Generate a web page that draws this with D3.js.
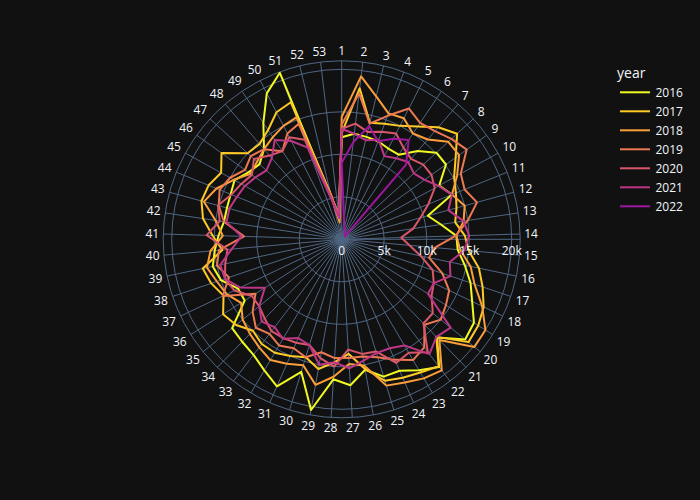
<!DOCTYPE html>
<html><head><meta charset="utf-8">
<script src="https://cdn.jsdelivr.net/npm/d3@7"></script>
<style>html,body{margin:0;padding:0;background:#111111;}svg{display:block;}</style>
</head><body><svg id="chart" width="700" height="500"></svg>
<script>
const weeks = d3.range(1, 54);
const years = ["2016","2017","2018","2019","2020","2021","2022"];
const colors = ["#f0f921","#fdca26","#fb9f3a","#ed7953","#d8576b","#bd3786","#9c179e"];
const radialTicks = [0, 5000, 10000, 15000, 20000];

// weekly values (thousands), weeks 1..53
const y2016 = [12,12.5,12.4,12.3,12,12,13.7,15.1,15.1,13.1,14,10.5,11.8,13.5,13.7,14.8,16,17,18.4,18.7,16.1,18.9,17.9,16.9,16.9,15.6,17.2,16.5,20.4,16.3,18.9,17.9,17.1,16.8,16.6,13.5,13.5,15,15.5,15,14.5,14,14,14.1,14.4,13.5,13.1,14,16.5,19.3,20.9,5,3];
const y2017 = [12.5,17.9,14.1,14.5,15,16,17.4,18.4,16.5,15.1,14.5,14,13.5,14.5,15,16.5,17.5,18.5,19,19.2,16,18.8,18.2,17.8,17.4,15.5,13.5,14.5,15.5,14.5,15,15.5,15.5,15,16,16.5,15.4,16.2,16.7,14.1,15.2,16.5,17.1,16.9,16.2,17.4,15,14.8,15.5,16.8,17.2,5.5,2.5];
const y2018 = [14.4,19.3,17.3,15.8,16,15,15.5,17,17,15.5,14,15,14.5,13.5,14,15.5,16.5,18.3,20,20.1,16.5,19.4,19,18.4,18,15.1,14.7,16.2,17.4,15.5,16,16.5,16,15.5,15,14,15,15.5,16.2,15.5,14,15,16.8,15.9,14.5,13.2,13.5,14,14.5,15,15.3,5,2];
const y2019 = [13.5,17.3,14,15.5,17.3,16.5,16.8,17.5,18.1,16,15.6,16.5,15,13.4,11,10.5,12.5,14,14.5,15,14,16,16.5,15.5,14.5,14,14,14,13.5,14.5,14,14.5,14,14.5,13.5,12,15.5,14,15,14.5,11.5,14,15,15.5,15,14,14.5,14,12.5,14,14.5,5,2.5];
const y2020 = [13,13.7,13,13.5,14,13,12.5,13,13,12.5,11,9.6,8.5,7,8,9.5,11.3,12,12.5,13.8,13.8,16.7,15.5,15.9,13.8,13.7,13,15,14.2,13,13.3,13.5,13.6,13,12.5,12.5,14,14.5,14,13.5,15.9,14.5,15.1,14,13.5,13,14,13,12.5,13.5,12.5,5,3];
const y2021 = [13,12.5,12,12.5,11,11.5,12,11.5,12,13,14,13,14.5,15,14.5,13,13.5,12,12,16.5,16,17,14.5,14,14,14.5,15.2,14.5,15,13,12.7,13.6,13,13.5,12.5,10.7,13.2,14.5,14.6,13,11.8,13.7,13.7,13.3,13,12.5,12,12.6,14.1,13,11.5,4.5,2.5];
const y2022 = [9,11.5,13.7,12.3,13.3,14.1,11.6,0.5];

const seriesValues = [y2016,y2017,y2018,y2019,y2020,y2021,y2022];

const svg = d3.select("#chart");
const W = 700, H = 500;
svg.append("rect").attr("width", W).attr("height", H).attr("fill", "#111111");

const cx = 341.7, cy = 239.3, R = 178.5;
const r = d3.scaleLinear().domain([0, 21000]).range([0, R]);
const ang = d3.scalePoint().domain(weeks).range([0, 2 * Math.PI * 52 / 53]);

const g = svg.append("g").attr("transform", `translate(${cx},${cy})`);
const gridColor = "#506784";

// spokes
g.append("g").selectAll("line").data(weeks).join("line")
  .attr("x1", 0).attr("y1", 0)
  .attr("x2", d => R * Math.sin(ang(d)))
  .attr("y2", d => -R * Math.cos(ang(d)))
  .attr("stroke", gridColor).attr("stroke-width", 1);

// circles
g.append("g").selectAll("circle").data(radialTicks.filter(t => t > 0)).join("circle")
  .attr("r", d => r(d)).attr("fill", "none").attr("stroke", gridColor).attr("stroke-width", 1);
g.append("circle").attr("r", R).attr("fill", "none").attr("stroke", gridColor).attr("stroke-width", 1);

// radial axis line
g.append("line").attr("x1", 0).attr("y1", 0).attr("x2", R).attr("y2", 0)
  .attr("stroke", gridColor).attr("stroke-width", 1);

// lines
const lineGen = d3.lineRadial()
  .angle(d => ang(d.week))
  .radius(d => r(d.value))
  .curve(d3.curveLinearClosed);

seriesValues.forEach((vals, i) => {
  const pts = vals.map((v, j) => ({week: weeks[j], value: v * 1000}));
  g.append("path").datum(pts)
    .attr("d", lineGen)
    .attr("fill", "none")
    .attr("stroke", colors[i])
    .attr("stroke-width", 2)
    .attr("stroke-linejoin", "round");
});

const fontFam = "'Open Sans', verdana, arial, sans-serif";
// radial tick labels
const fmt = d3.format("~s");
g.append("g").selectAll("text").data(radialTicks).join("text")
  .attr("x", d => r(d)).attr("y", 16)
  .attr("text-anchor", "middle")
  .attr("fill", "#f2f5fa").attr("font-family", fontFam).attr("font-size", 12)
  .text(d => fmt(d));

// angular labels
g.append("g").selectAll("text").data(weeks).join("text")
  .each(function(d) {
    const a = ang(d);
    const s = Math.sin(a), c = Math.cos(a);
    const w = String(d).length * 6.8, h = 12;
    const sup = Math.abs(s) * w / 2 + Math.abs(c) * h / 2;
    const rr = R + 4 + sup;
    d3.select(this).attr("x", rr * s).attr("y", -rr * c);
  })
  .attr("text-anchor", "middle").attr("dy", "0.35em")
  .attr("fill", "#f2f5fa").attr("font-family", fontFam).attr("font-size", 12)
  .text(d => d);

// legend
const lg = svg.append("g");
lg.append("text").attr("x", 617).attr("y", 78).text("year")
  .attr("fill", "#f2f5fa").attr("font-family", fontFam).attr("font-size", 14);
years.forEach((yr, i) => {
  const yy = 92.3 + i * 19;
  lg.append("line").attr("x1", 620).attr("x2", 650).attr("y1", yy).attr("y2", yy)
    .attr("stroke", colors[i]).attr("stroke-width", 2);
  lg.append("text").attr("x", 655.5).attr("y", yy + 4.3).text(yr)
    .attr("fill", "#f2f5fa").attr("font-family", fontFam).attr("font-size", 12);
});
</script></body></html>
